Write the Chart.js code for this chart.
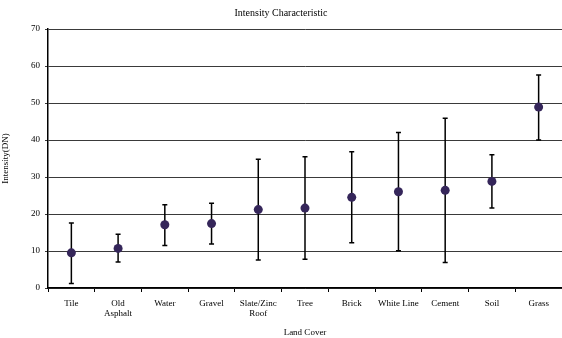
<!DOCTYPE html>
<html>
<head>
<meta charset="utf-8">
<script src="https://cdn.jsdelivr.net/npm/chart.js@4"></script>
<style>
html,body{margin:0;padding:0;background:#fff;}
#wrap{width:562px;height:338px;}
</style>
</head>
<body>
<div id="wrap"><canvas id="c" width="562" height="338"></canvas></div>
<script>
const categories = ['Tile', ['Old','Asphalt'], 'Water', 'Gravel', ['Slate/Zinc','Roof'], 'Tree', 'Brick', 'White Line', 'Cement', 'Soil', 'Grass'];
const meanValues = [9.5, 10.7, 17.1, 17.4, 21.2, 21.6, 24.5, 26.0, 26.4, 28.8, 48.9];
const upperValues = [17.6, 14.5, 22.5, 22.9, 34.8, 35.5, 36.8, 42.0, 45.9, 36.0, 57.6];
const lowerValues = [1.2, 7.0, 11.5, 11.9, 7.6, 7.8, 12.2, 10.1, 6.9, 21.6, 40.0];
const yTicks = [0, 10, 20, 30, 40, 50, 60, 70];

const FONT = "'Liberation Serif', 'Times New Roman', serif";

const errorBars = {
  id: 'errorBars',
  beforeDatasetsDraw(chart) {
    const ctx = chart.ctx;
    const xs = chart.scales.x, ys = chart.scales.y;
    ctx.save();
    ctx.strokeStyle = '#000';
    ctx.lineWidth = 1.5;
    for (let i = 0; i < meanValues.length; i++) {
      const x = xs.getPixelForValue(i);
      const yt = ys.getPixelForValue(upperValues[i]);
      const yb = ys.getPixelForValue(lowerValues[i]);
      ctx.beginPath();
      ctx.moveTo(x, yt); ctx.lineTo(x, yb);
      ctx.moveTo(x - 2.5, yt); ctx.lineTo(x + 2.5, yt);
      ctx.moveTo(x - 2.5, yb); ctx.lineTo(x + 2.5, yb);
      ctx.stroke();
    }
    ctx.restore();
  }
};

new Chart(document.getElementById('c'), {
  type: 'line',
  data: {
    labels: categories,
    datasets: [{
      data: meanValues,
      showLine: false,
      pointRadius: 4.5,
      pointBackgroundColor: '#35265A',
      pointBorderColor: '#35265A',
      pointBorderWidth: 0,
      clip: false
    }]
  },
  options: {
    responsive: false,
    animation: false,
    devicePixelRatio: 1,
    layout: { autoPadding: false, padding: { left: 0, right: 0, top: 0, bottom: 0 } },
    plugins: {
      legend: { display: false },
      tooltip: { enabled: false },
      title: {
        display: true,
        text: 'Intensity Characteristic',
        color: '#000',
        font: { family: FONT, size: 10, weight: 'normal', lineHeight: 1.2 },
        padding: { top: 7, bottom: 10 }
      }
    },
    scales: {
      x: {
        type: 'category',
        offset: true,
        grid: { offset: true, drawOnChartArea: false, drawTicks: true, tickLength: 4, color: '#000', lineWidth: 1 },
        border: { color: '#000', width: 1.5 },
        ticks: { color: '#000', font: { family: FONT, size: 9, lineHeight: 1.15 }, padding: 6, maxRotation: 0, autoSkip: false },
        title: { display: true, text: 'Land Cover', color: '#000', font: { family: FONT, size: 9 }, padding: { top: 4, bottom: 0 } },
        afterFit(s) { s.height = 50; }
      },
      y: {
        min: 0, max: 70,
        afterBuildTicks(s) { s.ticks = yTicks.map(v => ({ value: v })); },
        grid: { color: '#3a3a3a', lineWidth: 1, tickLength: 3, drawTicks: true },
        border: { color: '#000', width: 1.5 },
        ticks: { color: '#000', font: { family: FONT, size: 9 }, padding: 5 },
        title: { display: true, text: 'Intensity(DN)', color: '#000', font: { family: FONT, size: 9 }, padding: { top: 0, bottom: 4 } },
        afterFit(s) { s.width = 48; }
      }
    }
  },
  plugins: [errorBars]
});
</script>
</body>
</html>
